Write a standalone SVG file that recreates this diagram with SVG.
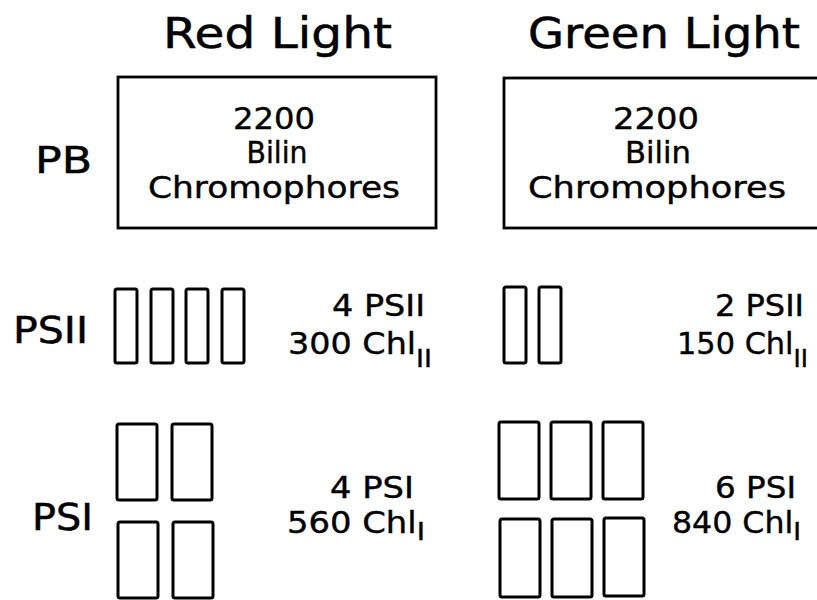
<svg xmlns="http://www.w3.org/2000/svg" width="817" height="600" viewBox="0 0 817 600">
<style>
text{font-family:"DejaVu Sans","Liberation Sans",sans-serif;fill:#000;stroke:#000;stroke-width:0.4}
.title{font-size:42px;stroke-width:0.5}
.row{font-size:38px;stroke-width:0.5}
.box{font-size:30px;text-anchor:middle}
.num{font-size:31px}
.num2{font-size:30px}
.sub{font-size:25px}
.frame{fill:#fff;stroke:#000;stroke-width:2.8}
.unit{fill:#fff;stroke:#000;stroke-width:3}
</style>
<rect width="817" height="600" fill="#fff" stroke="none"/>
<g id="titles">
<text class="title" x="163" y="48" textLength="229" lengthAdjust="spacingAndGlyphs">Red Light</text>
<text class="title" x="528" y="48" textLength="272" lengthAdjust="spacingAndGlyphs">Green Light</text>
</g>
<g id="row-labels">
<text class="row" x="35" y="173" textLength="57" lengthAdjust="spacingAndGlyphs">PB</text>
<text class="row" x="13" y="343" textLength="75" lengthAdjust="spacingAndGlyphs">PSII</text>
<text class="row" x="32" y="530" textLength="61" lengthAdjust="spacingAndGlyphs">PSI</text>
</g>
<g id="pb-red">
<rect class="frame" x="118" y="77" width="318" height="151"/>
<text class="box" x="274" y="129" textLength="82" lengthAdjust="spacingAndGlyphs">2200</text>
<text class="box" x="277" y="163" textLength="61" lengthAdjust="spacingAndGlyphs">Bilin</text>
<text class="box" x="274" y="198" textLength="252" lengthAdjust="spacingAndGlyphs">Chromophores</text>
</g>
<g id="pb-green">
<rect class="frame" x="504" y="78" width="318" height="150"/>
<text class="box" x="656" y="129" textLength="86" lengthAdjust="spacingAndGlyphs">2200</text>
<text class="box" x="658" y="163" textLength="66" lengthAdjust="spacingAndGlyphs">Bilin</text>
<text class="box" x="657" y="198" textLength="258" lengthAdjust="spacingAndGlyphs">Chromophores</text>
</g>
<g id="psii-red">
<rect class="unit" x="115" y="289" width="22" height="74" rx="2"/>
<rect class="unit" x="151" y="289" width="22" height="74" rx="2"/>
<rect class="unit" x="186" y="289" width="22" height="74" rx="2"/>
<rect class="unit" x="222" y="289" width="22" height="74" rx="2"/>
<text class="num" x="332" y="316" textLength="93" lengthAdjust="spacingAndGlyphs">4 PSII</text>
<text class="num" x="288" y="354" textLength="144" lengthAdjust="spacingAndGlyphs">300 Chl<tspan class="sub" dy="13">II</tspan></text>
</g>
<g id="psii-green">
<rect class="unit" x="504" y="287" width="22" height="76" rx="2"/>
<rect class="unit" x="539" y="287" width="22" height="76" rx="2"/>
<text class="num" x="715" y="316" textLength="89" lengthAdjust="spacingAndGlyphs">2 PSII</text>
<text class="num" x="677" y="354" textLength="131" lengthAdjust="spacingAndGlyphs">150 Chl<tspan class="sub" dy="13">II</tspan></text>
</g>
<g id="psi-red">
<rect class="unit" x="117" y="424" width="40" height="76" rx="2"/>
<rect class="unit" x="172" y="424" width="40" height="76" rx="2"/>
<rect class="unit" x="118" y="522" width="40" height="76" rx="2"/>
<rect class="unit" x="173" y="522" width="40" height="76" rx="2"/>
<text class="num2" x="330" y="498" textLength="84" lengthAdjust="spacingAndGlyphs">4 PSI</text>
<text class="num2" x="287" y="533" textLength="138" lengthAdjust="spacingAndGlyphs">560 Chl<tspan class="sub" dy="7">I</tspan></text>
</g>
<g id="psi-green">
<rect class="unit" x="499" y="422" width="40" height="77" rx="2"/>
<rect class="unit" x="551" y="422" width="40" height="77" rx="2"/>
<rect class="unit" x="603" y="422" width="40" height="77" rx="2"/>
<rect class="unit" x="500" y="519" width="40" height="78" rx="2"/>
<rect class="unit" x="552" y="519" width="40" height="78" rx="2"/>
<rect class="unit" x="604" y="518" width="40" height="78" rx="2"/>
<text class="num2" x="715" y="498" textLength="81" lengthAdjust="spacingAndGlyphs">6 PSI</text>
<text class="num2" x="672" y="533" textLength="129" lengthAdjust="spacingAndGlyphs">840 Chl<tspan class="sub" dy="7">I</tspan></text>
</g>
<g id="connectors"/>
</svg>
